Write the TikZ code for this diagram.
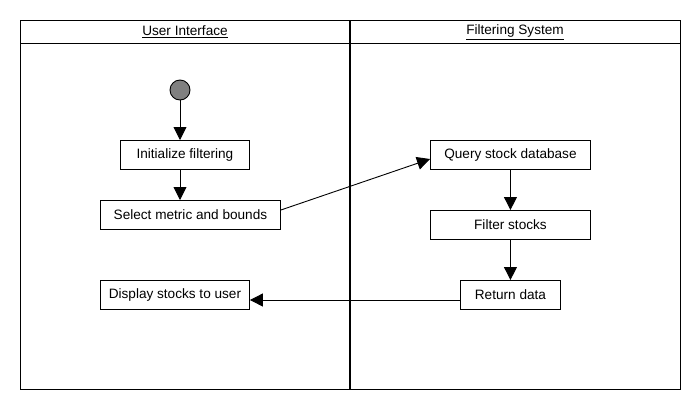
\documentclass[tikz,border=0pt]{standalone}
\usepackage{fontspec}
\setmainfont{Liberation Sans}
\usetikzlibrary{arrows.meta}
\begin{document}
\begin{tikzpicture}[x=1pt,y=-1pt,
  act/.style={draw,line width=0.9pt,inner sep=0pt,anchor=north west,font=\fontsize{13.6}{15}\selectfont},
  flow/.style={line width=0.9pt,-{Triangle[length=13pt,width=13pt]}},
  hdr/.style={font=\fontsize{13.6}{15}\selectfont}]
\useasboundingbox (0,0) rectangle (700,410);
% frame
\draw[line width=1pt] (20,20) rectangle (680,389);
\draw[line width=1pt] (20,43) -- (680,43);
\draw[line width=2pt] (350,20) -- (350,389);
\node[hdr] (h1) at (185,32) {\underline{User Interface}};
\node[hdr] (h2) at (515,32) {\underline{Filtering System}};
% start
\node[circle,draw,line width=0.9pt,fill=black!50,minimum size=20pt,inner sep=0pt] (start) at (180,90) {};
% activities
\node[act,minimum width=129pt,minimum height=29pt] (init) at (120,140) {Initialize filtering};
\node[act,minimum width=180pt,minimum height=29pt] (sel) at (100,200) {Select metric and bounds};
\node[act,minimum width=149pt,minimum height=29pt] (disp) at (100,280) {Display stocks to user};
\node[act,minimum width=160pt,minimum height=29pt] (query) at (430,140) {Query stock database};
\node[act,minimum width=160pt,minimum height=29pt] (filt) at (430,210) {Filter stocks};
\node[act,minimum width=100pt,minimum height=29pt] (ret) at (460,280) {Return data};
% connectors
\draw[flow] (start.south) -- (init.north -| start.south);
\draw[flow] (init.south -| start.south) -- (sel.north -| start.south);
\draw[flow] ([yshift=-10pt]sel.north east) -- ([yshift=-19pt]query.north west);
\draw[flow] (query.south) -- (filt.north);
\draw[flow] (filt.south) -- (ret.north);
\draw[flow] ([yshift=-20pt]ret.north west) -- ([yshift=-20pt]disp.north east);
\end{tikzpicture}
\end{document}
